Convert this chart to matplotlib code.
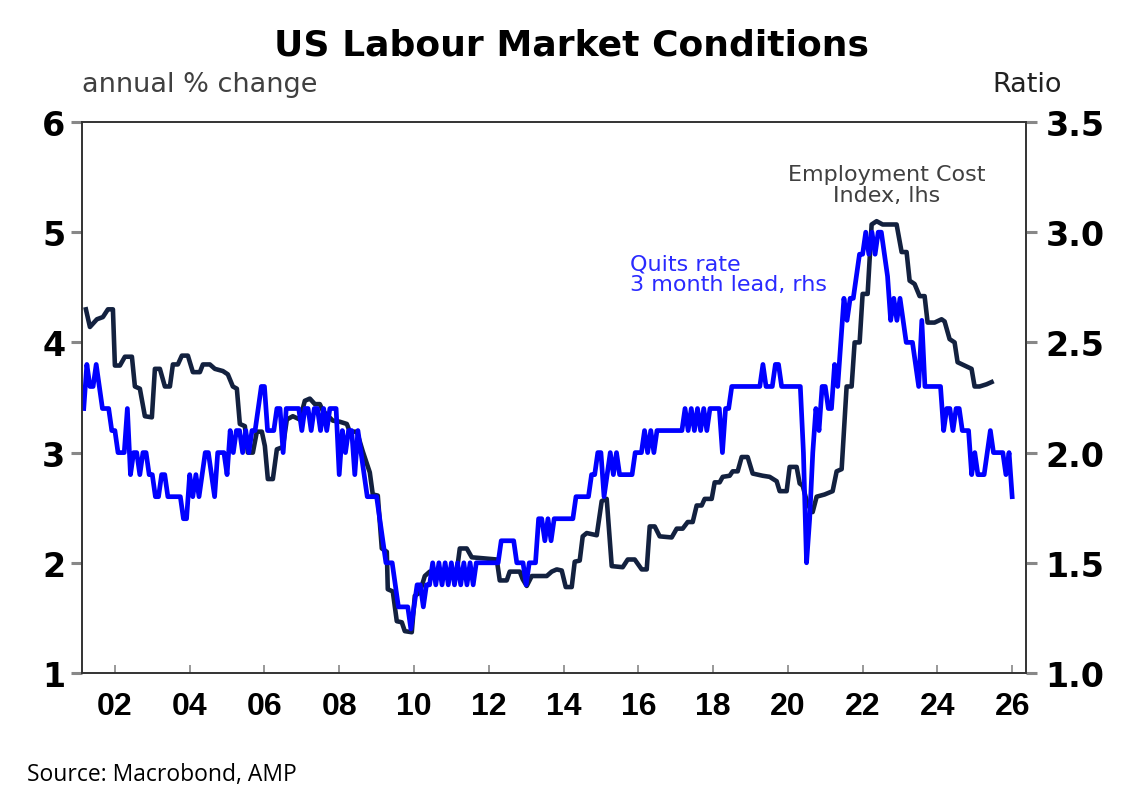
import matplotlib
matplotlib.use("Agg")
import matplotlib.pyplot as plt
import numpy as np

plt.rcParams['font.family'] = ['DejaVu Sans']

# Employment Cost Index, annual % change (lhs) - traced turning points
eci_date = [2001.225, 2001.332, 2001.519, 2001.679, 2001.813, 2001.947, 2002.000, 2002.134,
            2002.267, 2002.455, 2002.535, 2002.668, 2002.802, 2002.989, 2003.070, 2003.203,
            2003.337, 2003.471, 2003.551, 2003.684, 2003.791, 2003.952, 2004.086, 2004.273,
            2004.353, 2004.540, 2004.674, 2004.888, 2005.021, 2005.155, 2005.262, 2005.342,
            2005.476, 2005.556, 2005.690, 2005.797, 2005.930, 2006.011, 2006.091, 2006.225,
            2006.332, 2006.492, 2006.599, 2006.759, 2006.947, 2007.080, 2007.214, 2007.348,
            2007.481, 2007.561, 2007.829, 2008.016, 2008.203, 2008.283, 2008.471, 2008.631,
            2008.818, 2008.898, 2009.032, 2009.139, 2009.273, 2009.299, 2009.433, 2009.540,
            2009.674, 2009.754, 2009.941, 2010.021, 2010.155, 2010.289, 2010.422, 2011.144,
            2011.225, 2011.412, 2011.545, 2012.214, 2012.294, 2012.481, 2012.561, 2012.829,
            2012.909, 2013.016, 2013.150, 2013.551, 2013.684, 2013.818, 2013.952, 2014.059,
            2014.219, 2014.299, 2014.433, 2014.513, 2014.620, 2014.888, 2015.021, 2015.155,
            2015.289, 2015.583, 2015.717, 2015.904, 2016.091, 2016.225, 2016.305, 2016.439,
            2016.572, 2016.893, 2017.027, 2017.187, 2017.321, 2017.455, 2017.561, 2017.695,
            2017.775, 2017.963, 2018.043, 2018.176, 2018.257, 2018.444, 2018.524, 2018.658,
            2018.765, 2018.925, 2019.059, 2019.326, 2019.513, 2019.701, 2019.781, 2019.968,
            2020.048, 2020.235, 2020.316, 2020.396, 2020.529, 2020.663, 2020.770, 2020.984,
            2021.198, 2021.305, 2021.439, 2021.572, 2021.706, 2021.786, 2021.920, 2022.000,
            2022.134, 2022.241, 2022.374, 2022.535, 2022.909, 2023.043, 2023.176, 2023.257,
            2023.390, 2023.524, 2023.658, 2023.738, 2023.925, 2024.112, 2024.193, 2024.326,
            2024.460, 2024.540, 2024.727, 2024.914, 2024.995, 2025.128, 2025.316, 2025.449]
eci_value = [4.30, 4.14, 4.21, 4.23, 4.30, 4.30, 3.79, 3.79,
             3.87, 3.87, 3.60, 3.58, 3.33, 3.32, 3.76, 3.76,
             3.60, 3.60, 3.80, 3.80, 3.88, 3.88, 3.73, 3.73,
             3.80, 3.80, 3.76, 3.74, 3.71, 3.60, 3.58, 3.26,
             3.24, 3.00, 3.00, 3.19, 3.19, 3.06, 2.76, 2.76,
             3.03, 3.05, 3.30, 3.33, 3.30, 3.47, 3.49, 3.44,
             3.44, 3.38, 3.29, 3.28, 3.26, 3.19, 3.19, 3.01,
             2.82, 2.62, 2.61, 2.13, 2.10, 1.76, 1.74, 1.47,
             1.46, 1.38, 1.37, 1.70, 1.73, 1.88, 1.92, 1.92,
             2.13, 2.13, 2.05, 2.03, 1.84, 1.84, 1.92, 1.92,
             1.85, 1.79, 1.88, 1.88, 1.92, 1.94, 1.93, 1.78,
             1.78, 2.01, 2.02, 2.24, 2.27, 2.25, 2.56, 2.58,
             1.97, 1.96, 2.03, 2.03, 1.94, 1.94, 2.33, 2.33,
             2.24, 2.23, 2.31, 2.31, 2.37, 2.37, 2.52, 2.52,
             2.58, 2.58, 2.73, 2.73, 2.78, 2.79, 2.83, 2.83,
             2.96, 2.96, 2.81, 2.79, 2.78, 2.74, 2.65, 2.65,
             2.87, 2.87, 2.72, 2.70, 2.53, 2.46, 2.60, 2.62,
             2.65, 2.83, 2.85, 3.60, 3.60, 4.00, 4.00, 4.44,
             4.44, 5.07, 5.10, 5.07, 5.07, 4.82, 4.82, 4.56,
             4.53, 4.42, 4.42, 4.18, 4.18, 4.21, 4.19, 4.03,
             4.00, 3.82, 3.79, 3.76, 3.60, 3.60, 3.62, 3.64]

# Quits rate, 3 month lead (rhs), monthly from Mar 2001
quits_start = 2001 + 2 / 12
quits = [2.2, 2.4, 2.3, 2.3, 2.4, 2.3, 2.2, 2.2, 2.2, 2.1,
         2.1, 2.0, 2.0, 2.0, 2.2, 1.9, 2.0, 2.0, 1.9, 2.0, 2.0, 1.9,
         1.9, 1.8, 1.8, 1.9, 1.9, 1.8, 1.8, 1.8, 1.8, 1.8, 1.7, 1.7,
         1.9, 1.8, 1.9, 1.8, 1.9, 2.0, 2.0, 1.9, 1.8, 2.0, 2.0, 2.0,
         1.9, 2.1, 2.0, 2.1, 2.1, 2.0, 2.1, 2.0, 2.1, 2.1, 2.2, 2.3,
         2.3, 2.1, 2.1, 2.1, 2.2, 2.2, 2.0, 2.2, 2.2, 2.2, 2.2, 2.2,
         2.1, 2.2, 2.2, 2.1, 2.2, 2.2, 2.1, 2.2, 2.1, 2.2, 2.2, 2.2,
         1.9, 2.1, 2.0, 2.1, 2.1, 1.9, 2.1, 2.0, 1.9, 1.8, 1.8, 1.8,
         1.8, 1.7, 1.6, 1.5, 1.5, 1.5, 1.4, 1.3, 1.3, 1.3, 1.3, 1.2,
         1.3, 1.4, 1.4, 1.3, 1.4, 1.4, 1.5, 1.4, 1.5, 1.4, 1.5, 1.4,
         1.5, 1.4, 1.5, 1.4, 1.5, 1.4, 1.5, 1.4, 1.5, 1.5, 1.5, 1.5,
         1.5, 1.5, 1.5, 1.5, 1.6, 1.6, 1.6, 1.6, 1.6, 1.5, 1.5, 1.5,
         1.4, 1.5, 1.5, 1.5, 1.7, 1.7, 1.6, 1.7, 1.6, 1.7, 1.7, 1.7,
         1.7, 1.7, 1.7, 1.7, 1.8, 1.8, 1.8, 1.8, 1.8, 1.9, 1.9, 2.0,
         2.0, 1.8, 1.9, 2.0, 1.9, 2.0, 1.9, 1.9, 1.9, 1.9, 1.9, 2.0,
         2.0, 2.0, 2.1, 2.0, 2.1, 2.0, 2.1, 2.1, 2.1, 2.1, 2.1, 2.1,
         2.1, 2.1, 2.1, 2.2, 2.1, 2.2, 2.1, 2.2, 2.1, 2.2, 2.1, 2.2,
         2.2, 2.2, 2.2, 2.0, 2.2, 2.2, 2.3, 2.3, 2.3, 2.3, 2.3, 2.3,
         2.3, 2.3, 2.3, 2.3, 2.4, 2.3, 2.3, 2.3, 2.4, 2.4, 2.3, 2.3,
         2.3, 2.3, 2.3, 2.3, 2.3, 2.0, 1.5, 1.7, 2.0, 2.2, 2.1, 2.3,
         2.3, 2.2, 2.2, 2.4, 2.3, 2.5, 2.7, 2.6, 2.7, 2.7, 2.8, 2.9,
         2.9, 3.0, 2.9, 3.0, 2.9, 3.0, 3.0, 2.9, 2.8, 2.6, 2.7, 2.6,
         2.7, 2.6, 2.5, 2.5, 2.5, 2.4, 2.3, 2.6, 2.3, 2.3, 2.3, 2.3,
         2.3, 2.3, 2.1, 2.2, 2.2, 2.1, 2.2, 2.2, 2.1, 2.1, 2.1, 1.9,
         2.0, 1.9, 1.9, 1.9, 2.0, 2.1, 2.0, 2.0, 2.0, 2.0, 1.9, 2.0,
         1.8]
quits_date = quits_start + np.arange(len(quits)) / 12

year_ticks = list(range(2002, 2027, 2))
year_labels = ["%02d" % (y % 100) for y in year_ticks]
lhs_ticks = [1, 2, 3, 4, 5, 6]
rhs_ticks = [1.0, 1.5, 2.0, 2.5, 3.0, 3.5]

W, H = 1147, 804
fig = plt.figure(figsize=(W / 100, H / 100), dpi=100)
ax = fig.add_axes([82 / W, 1 - 674 / H, (1026 - 82) / W, (674 - 123) / H])
ax2 = ax.twinx()

ax.plot(eci_date, eci_value, color='#13213f', lw=3.3, solid_joinstyle='round')
ax2.plot(quits_date, quits, color='#0000ff', lw=3.4, solid_joinstyle='round')

ax.set_xlim(2001.12, 2026.37)
ax.set_ylim(1, 6)
ax2.set_ylim(1.0, 3.5)

ax.set_xticks(year_ticks)
ax.set_xticklabels(year_labels, fontsize=23, fontweight='bold',
                   family=['Liberation Sans', 'DejaVu Sans'])
ax.set_yticks(lhs_ticks)
ax.set_yticklabels([str(v) for v in lhs_ticks], fontsize=24, fontweight='bold')
ax2.set_yticks(rhs_ticks)
ax2.set_yticklabels(["%.1f" % v for v in rhs_ticks], fontsize=24, fontweight='bold')

ax.tick_params(axis='x', direction='in', length=6, width=1.2, color='#888888', pad=13)
ax.tick_params(axis='y', direction='out', length=8, width=2.2, color='#888888', pad=4)
ax2.tick_params(axis='y', direction='out', length=8, width=2.2, color='#888888', pad=6)

for a in (ax, ax2):
    for s in a.spines.values():
        s.set_color('#333333')
        s.set_linewidth(1.2)

fig.text(571 / W, 1 - 45 / H, "US Labour Market Conditions", ha='center', va='center',
         fontsize=26, fontweight='bold')
fig.text(82 / W, 1 - 85 / H, "annual % change", ha='left', va='center',
         fontsize=19.5, color='#404040')
fig.text(1062 / W, 1 - 85 / H, "Ratio", ha='right', va='center',
         fontsize=19.5, color='#222222')

ax.text(2022.64, 5.43, "Employment Cost\nIndex, lhs", ha='center', va='center',
        fontsize=16, color='#404040', linespacing=1.05)
ax.text(2015.77, 4.62, "Quits rate\n3 month lead, rhs", ha='left', va='center',
        fontsize=16, color='#2a2aff', linespacing=1.05)

fig.text(27 / W, 1 - 775 / H, "Source: Macrobond, AMP", ha='left', va='center',
         fontsize=16.5, family=['Open Sans', 'DejaVu Sans'])

fig.savefig("out.png", dpi=100)
